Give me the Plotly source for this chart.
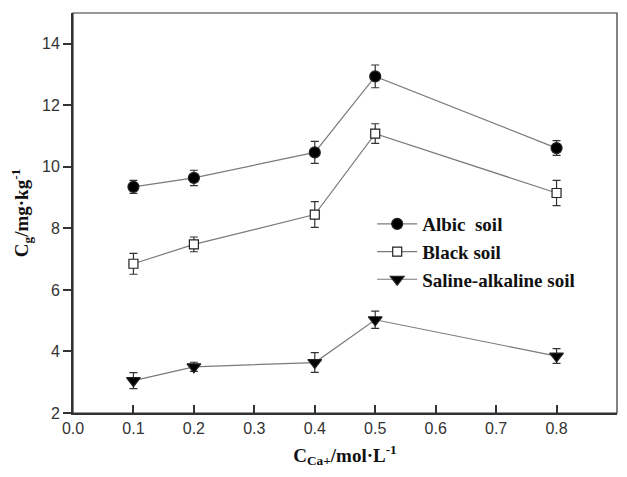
import plotly.graph_objects as go

x_vals = [0.1, 0.2, 0.4, 0.5, 0.8]
albic = [9.35, 9.64, 10.47, 12.94, 10.61]
albic_err = [0.21, 0.25, 0.36, 0.37, 0.24]
black = [6.85, 7.48, 8.45, 11.08, 9.15]
black_err = [0.34, 0.24, 0.42, 0.32, 0.41]
saline = [3.05, 3.50, 3.64, 5.03, 3.85]
saline_err = [0.26, 0.15, 0.32, 0.28, 0.24]
x_ticks = [0.0, 0.1, 0.2, 0.3, 0.4, 0.5, 0.6, 0.7, 0.8, 0.9]
y_ticks = [2, 4, 6, 8, 10, 12, 14]

line_col = "#7a7a7a"
fig = go.Figure()

def add(name, y, err, symbol, size, fill):
    fig.add_trace(go.Scatter(
        x=x_vals, y=y, name=f"<b>{name}</b>", mode="lines+markers",
        line=dict(color=line_col, width=1.2),
        marker=dict(symbol=symbol, size=size, color=fill,
                    line=dict(color="#222222", width=1.2)),
        error_y=dict(type="data", array=err, visible=True,
                     color="#333333", thickness=1.2, width=4),
    ))

add("Albic  soil", albic, albic_err, "circle", 11, "black")
add("Black soil", black, black_err, "square", 9, "white")
add("Saline-alkaline soil", saline, saline_err, "triangle-down", 12, "black")

tick_font = dict(family="Liberation Sans, Arial", size=16, color="#333333")
title_font = dict(family="Liberation Serif, Times New Roman", size=19, color="#111111")
fig.update_layout(
    width=627, height=477,
    margin=dict(l=73, r=10, t=13, b=64),
    paper_bgcolor="white", plot_bgcolor="white",
    showlegend=True,
    legend=dict(x=0.55, y=0.52, xanchor="left", yanchor="top",
                bgcolor="rgba(0,0,0,0)",
                font=dict(family="Liberation Serif, Times New Roman", size=19, color="#111111"),
                itemwidth=40, tracegroupgap=0),
    shapes=[dict(type="rect", xref="paper", yref="paper", x0=0, y0=0, x1=1, y1=1,
                 line=dict(color="#333333", width=1.2), layer="above")],
)
fig.update_xaxes(range=[0, 0.9], tickvals=x_ticks, ticktext=[f"{v:.1f}" for v in x_ticks],
                 ticks="inside", ticklen=8, tickwidth=1.5, tickcolor="#333333",
                 showline=True, linewidth=2, linecolor="#333333", showgrid=False,
                 zeroline=False, tickfont=tick_font,
                 title=dict(text="<b>C<sub>Ca+</sub>/mol·L<sup>-1</sup></b>",
                            font=title_font, standoff=12))
fig.update_yaxes(range=[2, 15], tickvals=y_ticks,
                 ticks="outside", ticklen=8, tickwidth=1.5, tickcolor="#333333",
                 showline=True, linewidth=2, linecolor="#333333", showgrid=False,
                 zeroline=False, tickfont=tick_font,
                 title=dict(text="<b>C<sub>g</sub>/mg·kg<sup>-1</sup></b>",
                            font=title_font, standoff=8))
fig.write_html("out.html")
